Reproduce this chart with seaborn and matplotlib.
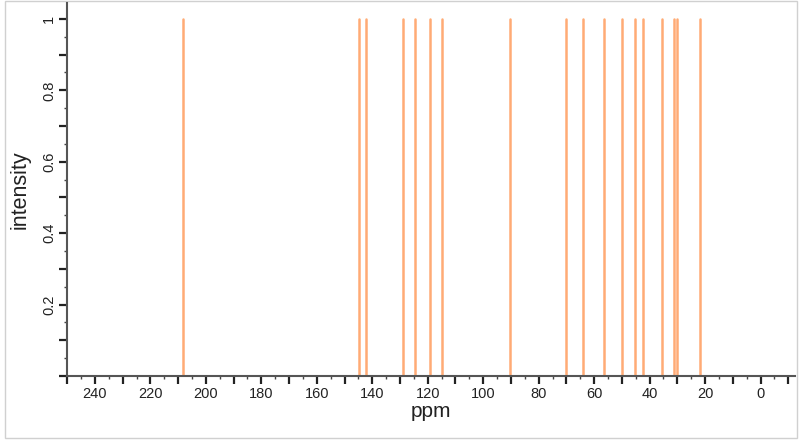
import numpy as np
import pandas as pd
import matplotlib
matplotlib.use("Agg")
import matplotlib.pyplot as plt
from matplotlib.ticker import MultipleLocator, FuncFormatter
from matplotlib.patches import Rectangle
import seaborn as sns

# peak positions (ppm) and intensities
shifts = [208.3, 144.8, 142.4, 128.9, 124.6, 119.1, 114.8, 90.2, 70.0, 64.1,
          56.6, 49.9, 45.1, 42.3, 35.6, 31.3, 30.1, 21.8]
intensities = [1.0] * len(shifts)
x_ticks_labelled = [240, 220, 200, 180, 160, 140, 120, 100, 80, 60, 40, 20, 0]
y_tick_labels = [0.2, 0.4, 0.6, 0.8, 1]

sns.set_style("ticks")
plt.rcParams['font.family'] = ['Liberation Sans', 'DejaVu Sans']

rows = []
for i, (s, h) in enumerate(zip(shifts, intensities)):
    rows.append({"ppm": s, "intensity": 0.0, "peak": i})
    rows.append({"ppm": s, "intensity": h, "peak": i})
df = pd.DataFrame(rows)

fig = plt.figure(figsize=(8, 4.4), dpi=100)
ax = fig.add_axes([0.084, 0.1455, 0.91, 0.848])

sns.lineplot(data=df, x="ppm", y="intensity", units="peak", estimator=None,
             color="#ffab75", linewidth=1.8, ax=ax, sort=False)

ax.set_xlim(250, -12.5)
ax.set_ylim(0, 1.045)

ax.xaxis.set_major_locator(MultipleLocator(10))
ax.xaxis.set_minor_locator(MultipleLocator(5))
ax.xaxis.set_major_formatter(FuncFormatter(
    lambda v, p: f"{int(round(v))}" if int(round(v)) in x_ticks_labelled else ""))
ax.yaxis.set_major_locator(MultipleLocator(0.1))
ax.yaxis.set_minor_locator(MultipleLocator(0.05))

def yfmt(v, p):
    for t in y_tick_labels:
        if abs(v - t) < 1e-6:
            return f"{t:g}"
    return ""
ax.yaxis.set_major_formatter(FuncFormatter(yfmt))

ax.tick_params(axis="both", which="major", length=6, width=1.6, color="#222222",
               labelsize=10.5, labelcolor="#222222", pad=2)
ax.tick_params(axis="both", which="minor", length=2.5, width=1, color="#444444")
for lab in ax.get_yticklabels():
    lab.set_rotation(90)
    lab.set_va("center")

sns.despine(ax=ax)
for side in ("left", "bottom"):
    ax.spines[side].set_color("#555555")
    ax.spines[side].set_linewidth(1.5)

ax.set_xlabel("ppm", fontsize=15, color="#222222", labelpad=1)
ax.set_ylabel("intensity", fontsize=15.5, color="#222222", labelpad=8)

fig.patches.append(Rectangle((5 / 800, 1 - 438 / 440), 792 / 800, 437 / 440,
                             transform=fig.transFigure, fill=False,
                             edgecolor="#d0d0d0", linewidth=1, zorder=-1))

fig.savefig("out.png", dpi=100)
